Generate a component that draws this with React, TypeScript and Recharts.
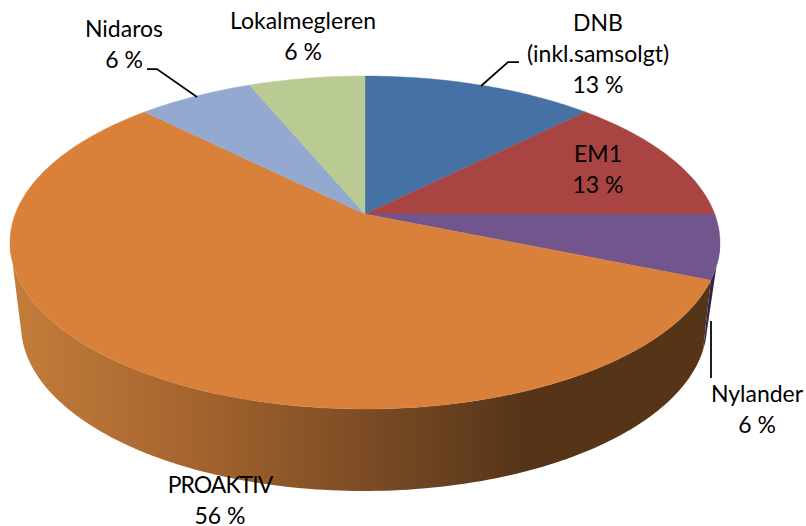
import { Pie, PieChart } from "recharts";

const categories = ["DNB", "EM1", "Nylander", "PROAKTIV", "Nidaros", "Lokalmegleren"];
const values = [2, 2, 1, 9, 1, 1];
const topColors = ["#4571a5", "#a84543", "#73558d", "#d9803b", "#93a9cf", "#b9cb93"];
const wallColors = ["#2c4468", "#6a2b2a", "#30254a", "url(#wallGrad)", "#5d6a82", "#75805c"];

// text lines, anchor and baselines of the labels; the percent line comes from the pie itself
const labelLines = [
  ["DNB", "(inkl.samsolgt)"],
  ["EM1"],
  ["Nylander"],
  ["PROAKTIV"],
  ["Nidaros"],
  ["Lokalmegleren"],
];
const labelAnchors = [
  { x: 598, y: 31 },
  { x: 598, y: 162 },
  { x: 757, y: 402 },
  { x: 220, y: 493 },
  { x: 124, y: 37 },
  { x: 303, y: 29 },
];
const leaderLines = [
  "519,62 508,62 481,86",
  "",
  "711,321 711,378",
  "",
  "147,69 157,69 197,97",
  "",
];

const LINE_HEIGHT = 31;
const TILT = 166.5 / 355; // vertical squash of the disc
const APEX_SHIFT = 0.171; // perspective: how far the apex sits behind the ellipse centre
const BOTTOM = { cx: 364, cy: 325, rx: 343, ry: 166, shift: 0.247, start: 107, end: 253 };
const FRONT_START = 99.85;
const FRONT_END = 260.15;

const topData = categories.map((name, i) => ({ name, value: values[i], fill: topColors[i] }));
const wallData = categories.map((name, i) => ({ name, value: values[i], fill: wallColors[i] }));

// theta is clockwise from 12 o'clock, result is a unit disc point moved by the tilt perspective
function project(theta: number, shift: number) {
  const rad = (theta * Math.PI) / 180;
  const x = Math.sin(rad);
  const y = Math.cos(rad);
  const w = 1 + shift * y;
  return { x: (x * Math.sqrt(1 - shift * shift)) / w, y: (y + shift) / w };
}

function arcPoints(from: number, to: number, cx: number, cy: number, rx: number, ry: number, shift: number) {
  const steps = Math.max(2, Math.ceil(Math.abs(to - from)));
  const pts: string[] = [];
  for (let i = 0; i <= steps; i++) {
    const p = project(from + ((to - from) * i) / steps, shift);
    pts.push(`${(cx + rx * p.x).toFixed(2)},${(cy - ry * p.y).toFixed(2)}`);
  }
  return pts;
}

const TopSector = (props: any) => {
  const { cx, cy, outerRadius, startAngle, endAngle, fill } = props;
  const ry = outerRadius * TILT;
  const apexY = cy - ry * APEX_SHIFT;
  const rim = arcPoints(90 - startAngle, 90 - endAngle, cx, cy, outerRadius, ry, APEX_SHIFT);
  return <path d={`M${cx},${apexY} L${rim.join(" L")} Z`} fill={fill} stroke={fill} strokeWidth={0.4} />;
};

const WallSector = (props: any) => {
  const { cx, cy, outerRadius, startAngle, endAngle, fill } = props;
  const from = Math.max(90 - startAngle, FRONT_START);
  const to = Math.min(90 - endAngle, FRONT_END);
  if (to <= from) return <g />;
  const upper = arcPoints(from, to, cx, cy, outerRadius, outerRadius * TILT, APEX_SHIFT);
  const lower = arcPoints(
    Math.min(to, BOTTOM.end),
    Math.max(from, BOTTOM.start),
    BOTTOM.cx,
    BOTTOM.cy,
    BOTTOM.rx,
    BOTTOM.ry,
    BOTTOM.shift,
  );
  return <path d={`M${upper.join(" L")} L${lower.join(" L")} Z`} fill={fill} />;
};

const renderLabel = (props: any) => {
  const { index, percent } = props;
  const anchor = labelAnchors[index];
  const lines = [...labelLines[index], `${Math.round(percent * 100)} %`];
  return (
    <g key={categories[index]}>
      {leaderLines[index] && (
        <polyline points={leaderLines[index]} fill="none" stroke="#000" strokeWidth={1.75} />
      )}
      <text
        textAnchor="middle"
        fontFamily="Lato, 'Open Sans', sans-serif"
        fontSize={23}
        fill="#000"
      >
        {lines.map((line, i) => (
          <tspan
            key={line}
            x={anchor.x}
            y={anchor.y + i * LINE_HEIGHT}
            letterSpacing={line === line.toUpperCase() && line.length > 4 ? -1 : 0}
          >
            {line}
          </tspan>
        ))}
      </text>
    </g>
  );
};

export default function App() {
  return (
    <div style={{ position: "absolute", left: 0, top: 0, width: 806, height: 526, background: "#fff" }}>
      <PieChart width={806} height={526} margin={{ top: 0, right: 0, bottom: 0, left: 0 }}>
        <defs>
          <linearGradient id="wallGrad" gradientUnits="userSpaceOnUse" x1="10" y1="0" x2="720" y2="0">
            <stop offset="0%" stopColor="#c47d3a" />
            <stop offset="27%" stopColor="#a3632e" />
            <stop offset="60%" stopColor="#6b4220" />
            <stop offset="72%" stopColor="#563417" />
            <stop offset="100%" stopColor="#563417" />
          </linearGradient>
        </defs>
        <Pie
          data={wallData}
          dataKey="value"
          nameKey="name"
          cx={365}
          cy={242.5}
          outerRadius={355}
          startAngle={90}
          endAngle={-270}
          shape={WallSector}
          inactiveShape={WallSector}
          activeShape={WallSector}
          label={false}
          labelLine={false}
          isAnimationActive={false}
        />
        <Pie
          data={topData}
          dataKey="value"
          nameKey="name"
          cx={365}
          cy={242.5}
          outerRadius={355}
          startAngle={90}
          endAngle={-270}
          shape={TopSector}
          inactiveShape={TopSector}
          activeShape={TopSector}
          label={renderLabel}
          labelLine={false}
          isAnimationActive={false}
        />
      </PieChart>
    </div>
  );
}
